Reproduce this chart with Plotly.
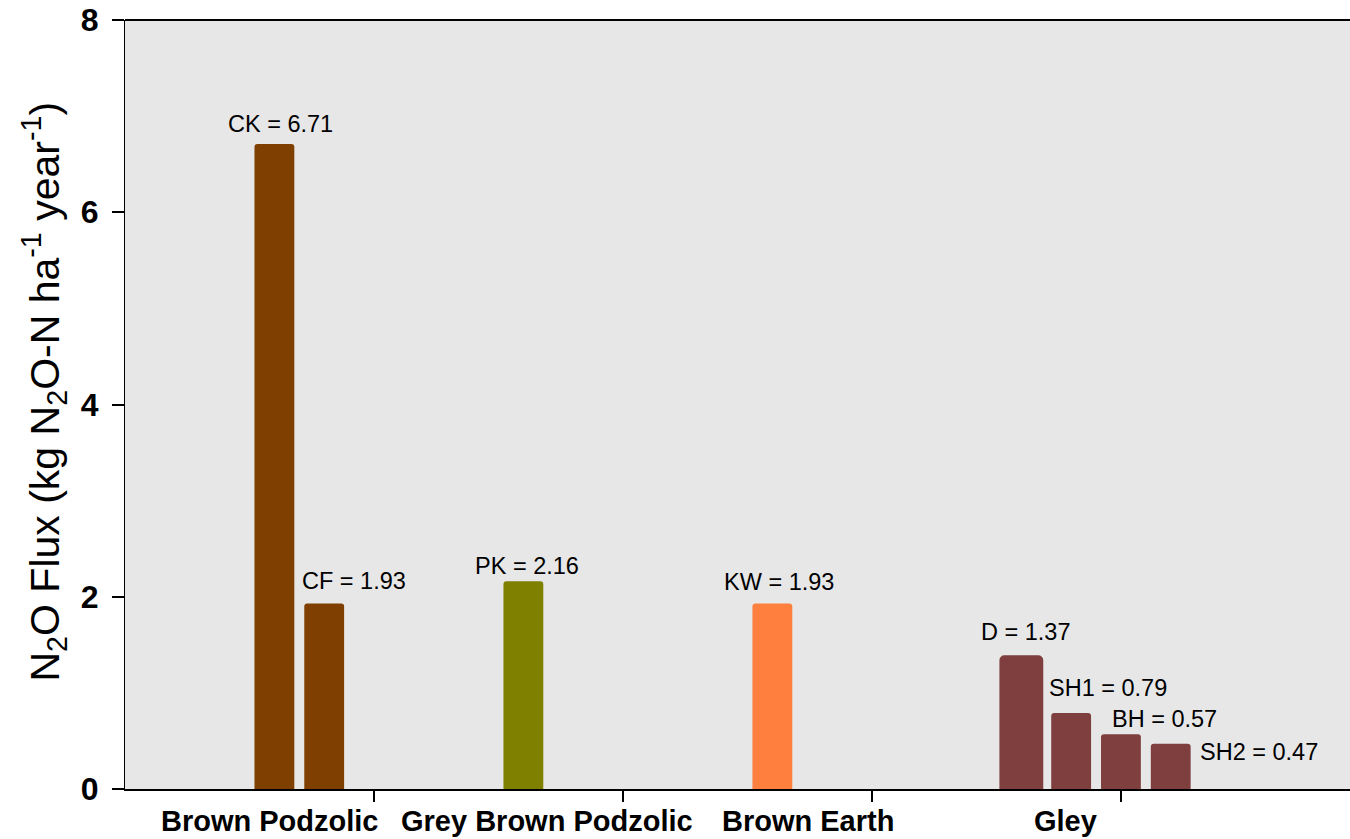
import plotly.graph_objects as go

# Annual N2O flux by site, grouped by soil type
sites = ["CK", "CF", "PK", "KW", "D", "SH1", "BH", "SH2"]
flux = [6.71, 1.93, 2.16, 1.93, 1.37, 0.79, 0.57, 0.47]
soil = ["Brown Podzolic", "Brown Podzolic", "Grey Brown Podzolic", "Brown Earth",
        "Gley", "Gley", "Gley", "Gley"]
bar_pos = [3, 4, 8, 13, 18, 19, 20, 21]

soil_types = ["Brown Podzolic", "Grey Brown Podzolic", "Brown Earth", "Gley"]
soil_label_pos = [2.91, 8.47, 13.71, 18.88]
soil_colors = {
    "Brown Podzolic": "#7f3f00",
    "Grey Brown Podzolic": "#7f7f00",
    "Brown Earth": "#ff7f3f",
    "Gley": "#7f3f3f",
}
y_ticks = [0, 2, 4, 6, 8]
x_ticks = [5, 10, 15, 20]

# value-label placement (x offset in axis units, y shift in px)
label_dx = [0.12, 0.59, 0.07, 0.14, 0.09, 0.75, 0.88, 1.78]
label_dy = [20, 22, 15, 21, 25, 25, 15, -8]

FONT = "Liberation Sans, Arial, sans-serif"

fig = go.Figure()
fig.add_trace(go.Bar(
    x=bar_pos,
    y=flux,
    width=0.8,
    marker=dict(
        color=[soil_colors[s] for s in soil],
        line=dict(color=[soil_colors[s] for s in soil],
                  width=[0, 0, 0, 0, 4, 0, 0, 0]),
        cornerradius=3,
    ),
    hoverinfo="skip",
    showlegend=False,
))

for name, v, xp, dx, dy in zip(sites, flux, bar_pos, label_dx, label_dy):
    fig.add_annotation(
        x=xp + dx, y=v, xref="x", yref="y",
        text=f"{name} = {v:.2f}", showarrow=False,
        xanchor="center", yanchor="middle", yshift=dy,
        font=dict(family=FONT, size=23.5, color="black"),
    )

for name, xp in zip(soil_types, soil_label_pos):
    fig.add_annotation(
        x=xp, y=0, xref="x", yref="paper",
        text=f"<b>{name}</b>", showarrow=False,
        xanchor="center", yanchor="middle", yshift=-32,
        font=dict(family=FONT, size=29, color="black"),
    )

fig.add_annotation(
    x=0, y=0.5, xref="paper", yref="paper",
    text="N<sub>2</sub>O Flux (kg N<sub>2</sub>O-N ha<sup>-1</sup> year<sup>-1</sup>)",
    textangle=-90, showarrow=False, xanchor="center", yanchor="middle",
    xshift=-81, yshift=13,
    font=dict(family=FONT, size=41, color="black"),
)

# frame line along the top of the panel
fig.add_shape(type="line", xref="paper", yref="paper", x0=0, x1=1, y0=1, y1=1,
              line=dict(color="black", width=2))

fig.update_layout(
    width=1350, height=839,
    margin=dict(l=125, r=0, t=20, b=50),
    paper_bgcolor="white",
    plot_bgcolor="#e7e7e7",
    font=dict(family=FONT, color="black"),
    xaxis=dict(
        range=[0, 24.6], showgrid=False, zeroline=False,
        showline=True, linecolor="black", linewidth=2,
        ticks="outside", ticklen=11, tickwidth=1.5, tickcolor="black",
        tickvals=x_ticks, ticktext=["" for _ in x_ticks],
    ),
    yaxis=dict(
        range=[0, 8], showgrid=False, zeroline=False,
        showline=True, linecolor="black", linewidth=1,
        ticks="outside", ticklen=12, tickwidth=1.5, tickcolor="black",
        tickvals=y_ticks, ticklabelstandoff=7,
        tickfont=dict(family=FONT, size=32, weight="bold", color="black"),
    ),
)

fig.write_html("out.html")
